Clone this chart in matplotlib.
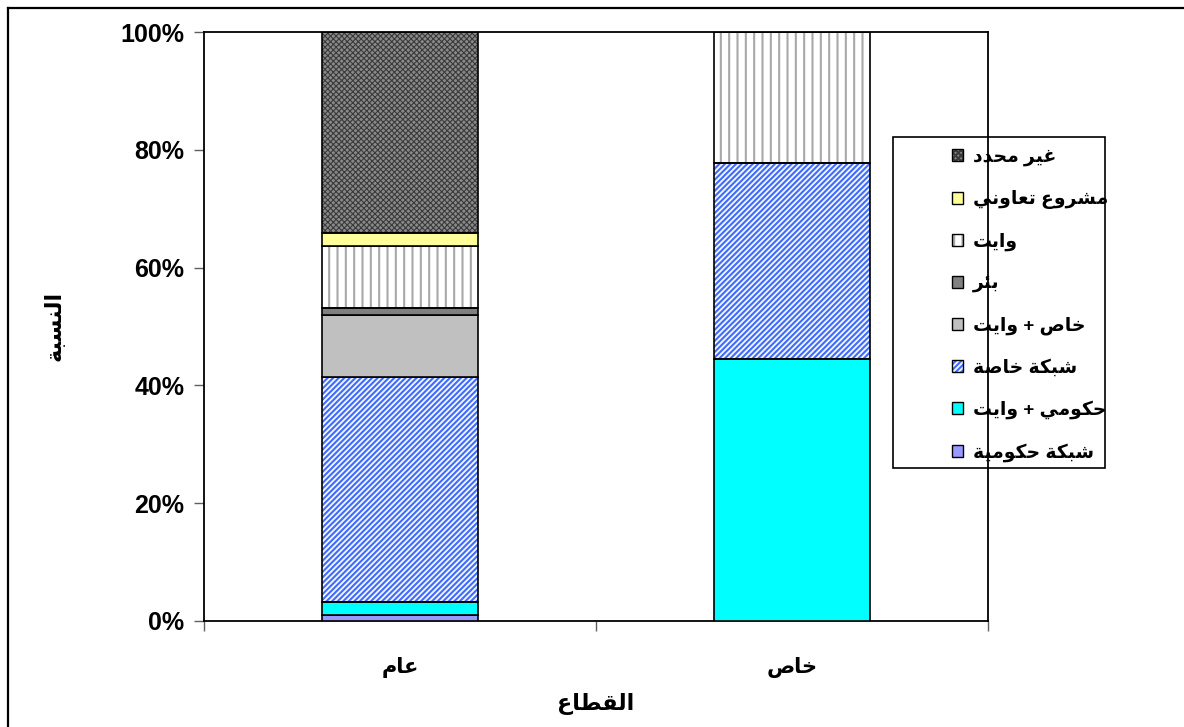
import matplotlib
matplotlib.use('Agg')
import matplotlib.pyplot as plt
from matplotlib.patches import Patch, Rectangle
from matplotlib.lines import Line2D
import numpy as np

# ---------------- data ----------------
categories = ['عام', 'خاص']
series_names = ['شبكة حكومية', 'حكومي + وايت', 'شبكة خاصة', 'خاص + وايت',
                'بئر', 'وايت', 'مشروع تعاوني', 'غير محدد']
gov_network = [1.1, 0.0]
gov_truck = [2.1, 44.5]
private_network = [38.3, 33.3]
private_truck = [10.5, 0.0]
well = [1.1, 0.0]
truck = [10.6, 22.2]
coop = [2.2, 0.0]
unspecified = [34.1, 0.0]
y_ticks = [0, 20, 40, 60, 80, 100]
y_tick_labels = ['0%', '20%', '40%', '60%', '80%', '100%']
x_title = 'القطاع'
y_title = 'النسبة'

# ---------------- Arabic shaping (presentation forms + visual order) ----------------
_FORMS = {
    'آ': (0xFE81, False), 'أ': (0xFE83, False), 'ؤ': (0xFE85, False), 'إ': (0xFE87, False),
    'ئ': (0xFE89, True), 'ا': (0xFE8D, False), 'ب': (0xFE8F, True), 'ة': (0xFE93, False),
    'ت': (0xFE95, True), 'ث': (0xFE99, True), 'ج': (0xFE9D, True), 'ح': (0xFEA1, True),
    'خ': (0xFEA5, True), 'د': (0xFEA9, False), 'ذ': (0xFEAB, False), 'ر': (0xFEAD, False),
    'ز': (0xFEAF, False), 'س': (0xFEB1, True), 'ش': (0xFEB5, True), 'ص': (0xFEB9, True),
    'ض': (0xFEBD, True), 'ط': (0xFEC1, True), 'ظ': (0xFEC5, True), 'ع': (0xFEC9, True),
    'غ': (0xFECD, True), 'ف': (0xFED1, True), 'ق': (0xFED5, True), 'ك': (0xFED9, True),
    'ل': (0xFEDD, True), 'م': (0xFEE1, True), 'ن': (0xFEE5, True), 'ه': (0xFEE9, True),
    'و': (0xFEED, False), 'ى': (0xFEEF, False), 'ي': (0xFEF1, True),
}


def shape(text):
    chars = list(text)
    n = len(chars)
    res = []
    for i, c in enumerate(chars):
        if c not in _FORMS:
            res.append(c)
            continue
        base, dual = _FORMS[c]
        prev = chars[i - 1] if i > 0 else None
        nxt = chars[i + 1] if i + 1 < n else None
        jp = prev is not None and prev in _FORMS and _FORMS[prev][1]
        jn = dual and nxt is not None and nxt in _FORMS
        if jp and jn:
            code = base + 3
        elif jp:
            code = base + 1
        elif jn:
            code = base + 2
        else:
            code = base
        res.append(chr(code))
    return ''.join(reversed(res))


def set_hlw(artist, lw):
    if hasattr(artist, 'set_hatch_linewidth'):
        artist.set_hatch_linewidth(lw)


# ---------------- styling ----------------
plt.rcParams['font.family'] = ['Liberation Sans', 'DejaVu Sans']
plt.rcParams['font.weight'] = 'bold'

W, H = 1184, 727
fig = plt.figure(figsize=(W / 100, H / 100), dpi=100)
fig.patch.set_facecolor('white')
ax = fig.add_axes([204 / W, 1 - 621 / H, (988 - 204) / W, (621 - 32) / H])

data = [gov_network, gov_truck, private_network, private_truck, well, truck, coop, unspecified]
styles = [
    dict(face='#9999FF', hatch=None, hcol=None, hlw=1.0),
    dict(face='#00FFFF', hatch=None, hcol=None, hlw=1.0),
    dict(face='#F4F7FF', hatch='//////', hcol='#3F6CFF', hlw=1.5),
    dict(face='#C0C0C0', hatch=None, hcol=None, hlw=1.0),
    dict(face='#808080', hatch=None, hcol=None, hlw=1.0),
    dict(face='white', hatch='||', hcol='#A8A8A8', hlw=1.5),
    dict(face='#FFFF99', hatch=None, hcol=None, hlw=1.0),
    dict(face='#8A8A8A', hatch='xxxxxx', hcol='#3A3A3A', hlw=0.8),
]

x = np.arange(len(categories))
totals = np.sum(np.array(data), axis=0)
bottom = np.zeros(len(categories))
bw = 0.4
handles = []
for vals, st in zip(data, styles):
    pct = np.array(vals) / totals * 100
    plt.rcParams['hatch.linewidth'] = st['hlw']
    if st['hatch']:
        bars = ax.bar(x, pct, bw, bottom=bottom, color=st['face'], edgecolor=st['hcol'],
                      hatch=st['hatch'], linewidth=0, zorder=2)
        for b in bars:
            set_hlw(b, st['hlw'])
        ax.bar(x, pct, bw, bottom=bottom, color='none', edgecolor='black',
               linewidth=1.2, zorder=3)
        hp = Patch(facecolor=st['face'], edgecolor=st['hcol'], hatch=st['hatch'], linewidth=0)
        set_hlw(hp, st['hlw'])
        h = (hp, Patch(facecolor='none', edgecolor='black', linewidth=1.0))
    else:
        ax.bar(x, pct, bw, bottom=bottom, color=st['face'], edgecolor='black',
               linewidth=1.2, zorder=3)
        h = Patch(facecolor=st['face'], edgecolor='black', linewidth=1.0)
    handles.append(h)
    bottom = bottom + pct
plt.rcParams['hatch.linewidth'] = 1.5

ax.set_xlim(-0.5, len(categories) - 0.5)
ax.set_ylim(0, 100)

ax.set_yticks(y_ticks)
ax.set_yticklabels(y_tick_labels, fontsize=18, fontweight='bold')
ax.tick_params(axis='y', direction='out', length=7, width=1, color='#606060', pad=7)

ax.set_xticks(np.arange(len(categories) + 1) - 0.5)
ax.set_xticklabels([])
ax.tick_params(axis='x', which='major', direction='out', length=7, width=1, color='#606060')
ax.set_xticks(x, minor=True)
ax.set_xticklabels([shape(c) for c in categories], minor=True, fontsize=15, fontweight='bold')
ax.tick_params(axis='x', which='minor', length=0, pad=26)

for s in ax.spines.values():
    s.set_color('black')
    s.set_linewidth(1.3)

ax.set_xlabel(shape(x_title), fontsize=16, fontweight='bold', labelpad=11)
ax.set_ylabel(shape(y_title), fontsize=16, fontweight='bold')
ax.yaxis.set_label_coords(66 / W, 1 - 326 / H, transform=fig.transFigure)

# legend (frame drawn separately)
leg_handles = handles[::-1]
leg_labels = [shape(s) for s in series_names[::-1]]
leg = fig.legend(leg_handles, leg_labels, loc='upper left',
                 bbox_to_anchor=(952 / W, 1 - 149 / H), bbox_transform=fig.transFigure,
                 frameon=False, borderpad=0, borderaxespad=0,
                 handlelength=0.6, handleheight=0.6, handletextpad=0.5,
                 labelspacing=1.27, prop={'size': 13.5, 'weight': 'bold'})

fig.add_artist(Rectangle((893 / W, 1 - 468 / H), (1105 - 893) / W, (468 - 137) / H,
                         transform=fig.transFigure, facecolor='none', edgecolor='black',
                         linewidth=1.2, zorder=5))

# outer chart border
fig.add_artist(Line2D([8 / W, 1.0], [1 - 8 / H, 1 - 8 / H], transform=fig.transFigure,
                      color='black', linewidth=1.6))
fig.add_artist(Line2D([8 / W, 8 / W], [0.0, 1 - 8 / H], transform=fig.transFigure,
                      color='black', linewidth=1.6))

fig.savefig('out.png', dpi=100)
